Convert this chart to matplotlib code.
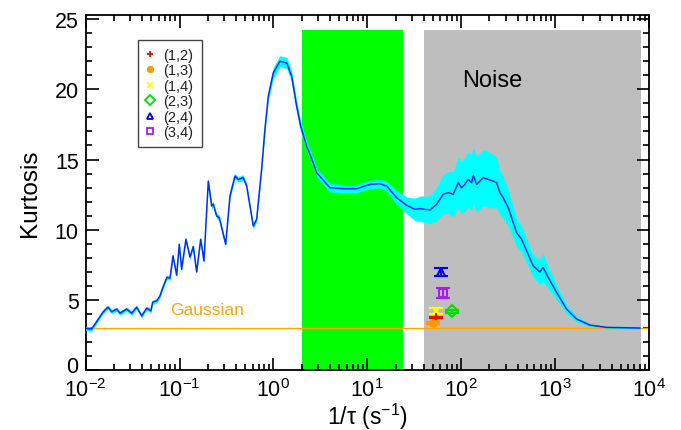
import numpy as np
import matplotlib
matplotlib.use('Agg')
import matplotlib.pyplot as plt
from matplotlib.ticker import LogLocator, MultipleLocator, NullFormatter
from matplotlib.lines import Line2D
from matplotlib.transforms import ScaledTranslation

plt.rcParams['font.family'] = ['Liberation Sans', 'DejaVu Sans']
plt.rcParams['mathtext.fontset'] = 'custom'
plt.rcParams['mathtext.rm'] = 'Liberation Sans'
plt.rcParams['mathtext.it'] = 'Liberation Sans:italic'
plt.rcParams['mathtext.default'] = 'regular'

# kurtosis curve: log10(1/tau), kurtosis, half width of the band
log_f = [-2.000, -1.936, -1.901, -1.816, -1.763, -1.723, -1.670, -1.635, -1.563, -1.510,
         -1.457, -1.404, -1.350, -1.305, -1.286, -1.244, -1.209, -1.177, -1.135, -1.102,
         -1.070, -1.031, -1.003, -0.978, -0.932, -0.889, -0.854, -0.818, -0.775, -0.740,
         -0.694, -0.658, -0.641, -0.605, -0.577, -0.509, -0.463, -0.410, -0.375, -0.322,
         -0.285, -0.215, -0.179, -0.126, -0.091, -0.055, -0.002, 0.069, 0.141, 0.194,
         0.247, 0.290, 0.354, 0.424, 0.460, 0.602, 0.743, 0.886, 1.028, 1.134,
         1.206, 1.312, 1.419, 1.507, 1.560, 1.667, 1.738, 1.808, 1.862, 1.915,
         1.968, 2.004, 2.039, 2.075, 2.111, 2.128, 2.164, 2.199, 2.234, 2.288,
         2.341, 2.377, 2.412, 2.447, 2.501, 2.554, 2.590, 2.643, 2.697, 2.767,
         2.838, 2.873, 2.927, 3.016, 3.122, 3.229, 3.371, 3.548, 3.903]
kurt = [2.97, 2.92, 3.27, 4.13, 4.48, 4.15, 4.34, 4.05, 4.34, 4.05,
        4.48, 3.86, 4.41, 4.22, 4.84, 4.93, 5.28, 5.90, 6.61, 6.54,
        8.13, 6.76, 8.96, 7.18, 9.32, 8.04, 8.80, 6.99, 9.32, 7.77,
        13.46, 11.69, 11.81, 10.97, 10.86, 8.96, 12.40, 13.82, 13.58, 13.71,
        13.11, 10.26, 10.74, 14.30, 17.14, 19.51, 21.17, 22.00, 21.89, 20.93,
        18.80, 17.38, 15.95, 14.77, 14.06, 12.99, 12.92, 12.92, 13.23, 13.28,
        13.11, 12.28, 11.74, 11.45, 11.50, 11.40, 11.81, 12.52, 12.64, 12.52,
        13.35, 12.99, 13.23, 13.58, 13.35, 13.87, 13.23, 13.46, 13.71, 13.58,
        13.46, 13.35, 12.64, 12.28, 11.57, 10.50, 9.79, 9.32, 8.49, 7.42,
        6.99, 7.30, 6.59, 5.53, 4.34, 3.63, 3.20, 3.04, 2.99]
err = [0.15, 0.15, 0.15, 0.15, 0.15, 0.15, 0.15, 0.15, 0.15, 0.15,
       0.15, 0.15, 0.15, 0.15, 0.15, 0.15, 0.15, 0.15, 0.15, 0.15,
       0.15, 0.15, 0.15, 0.15, 0.15, 0.15, 0.15, 0.15, 0.15, 0.15,
       0.2, 0.2, 0.2, 0.2, 0.2, 0.2, 0.2, 0.2, 0.2, 0.2,
       0.2, 0.2, 0.2, 0.2, 0.3, 0.35, 0.4, 0.4, 0.4, 0.4,
       0.4, 0.4, 0.35, 0.3, 0.3, 0.3, 0.3, 0.3, 0.3, 0.3,
       0.35, 0.5, 0.6, 0.8, 0.9, 1.0, 1.2, 1.4, 1.5, 1.6,
       1.8, 1.9, 1.9, 2.0, 2.0, 2.0, 2.0, 2.0, 2.0, 2.0,
       1.9, 1.8, 1.6, 1.5, 1.3, 1.1, 1.0, 0.9, 0.85, 0.8,
       0.9, 1.0, 0.8, 0.5, 0.3, 0.2, 0.1, 0.05, 0.05]

# individual pairs
pair_names = ['(1,2)', '(1,3)', '(1,4)', '(2,3)', '(2,4)', '(3,4)']
pair_f = [54, 50, 54, 79, 61, 64]
pair_k = [3.75, 3.34, 4.20, 4.17, 7.00, 5.50]
pair_err = [0.05, 0.05, 0.24, 0.08, 0.30, 0.36]
pair_colors = ['#ff0000', '#ff9900', '#ffff00', '#00e000', '#0000ff', '#a020f0']
pair_markers = ['+', (8, 2, 0), 'x', 'D', '^', 's']

green_band = (2.0, 24.0)
gray_band = (40.0, 8300.0)
band_top = 24.2

f = 10 ** np.array(log_f)
kurt = np.array(kurt)
err = np.array(err)

fig = plt.figure(figsize=(6.81, 4.31), dpi=100)
ax = fig.add_axes([0.1258, 0.1392, 0.8272, 0.8237])

ax.fill_between(green_band, 0, band_top, color='#00ff00', lw=0, zorder=1)
ax.fill_between(gray_band, 0, band_top, color='#bebebe', lw=0, zorder=1)
ax.axhline(3.0, color='#ffa500', lw=1, zorder=2)
ax.fill_between(f, kurt - err, kurt + err, color='#00ffff', lw=0, zorder=3)
ax.plot(f, kurt, color='#0030f0', lw=1.1, zorder=4)

for name, x, y, e, c, m in zip(pair_names, pair_f, pair_k, pair_err,
                                pair_colors, pair_markers):
    filled = m in ['+', 'x'] or isinstance(m, tuple)
    ax.errorbar(x, y, yerr=e, fmt='none', ecolor=c, elinewidth=1.5,
                capsize=5, capthick=1.5, zorder=5)
    ax.plot(x, y, marker=m, ms=6, mew=1.5, color=c,
            mfc=c if filled else 'none', ls='none', zorder=6)

ax.text(212, 20.7, 'Noise', fontsize=17, ha='center', va='center')
ax.text(0.196, 4.34, 'Gaussian', fontsize=12.5, color='#ffa500',
        ha='center', va='center')

ax.set_xscale('log')
ax.set_xlim(1e-2, 1e4)
ax.set_ylim(0, 25.3)
ax.yaxis.set_major_locator(MultipleLocator(5))
ax.yaxis.set_minor_locator(MultipleLocator(1))
ax.xaxis.set_major_locator(LogLocator(base=10, numticks=10))
ax.xaxis.set_minor_locator(LogLocator(base=10, subs=np.arange(2, 10), numticks=20))
ax.xaxis.set_minor_formatter(NullFormatter())
ax.tick_params(which='both', direction='in', top=True, right=True,
               width=1.2, labelsize=15.5)
ax.tick_params(axis='y', pad=5)
ax.tick_params(axis='x', pad=6)
ax.tick_params(which='major', length=9)
ax.tick_params(which='minor', length=4.5)
for s in ax.spines.values():
    s.set_linewidth(1.3)

ax.set_xlabel(r'1/$\tau$ (s$^{-1}$)', fontsize=16.5, labelpad=0)
ax.set_ylabel('Kurtosis', fontsize=17.5, labelpad=10)

handles = []
for name, c, m in zip(pair_names, pair_colors, pair_markers):
    filled = m in ['+', 'x'] or isinstance(m, tuple)
    handles.append(Line2D([], [], ls='none', marker=m, color=c, ms=5, mew=1.3,
                          mfc=c if filled else 'none', label=name))
leg = ax.legend(handles=handles, loc='upper left',
                bbox_to_anchor=(138 / 681, 1 - 41 / 431),
                bbox_transform=fig.transFigure, borderaxespad=0,
                fontsize=10.5, handlelength=0.6, handletextpad=0.6,
                labelspacing=0.1, fancybox=False, framealpha=1,
                edgecolor='#444444', borderpad=0.55)
leg.get_frame().set_linewidth(1.0)
for t in leg.get_texts():
    t.set_color('#222222')

# lift the "0" label a little so it clears the 10^-2 label
fig.canvas.draw()
for tk in ax.yaxis.get_major_ticks():
    if abs(tk.get_loc()) < 1e-9:
        lab0 = tk.label1
        lab0.set_transform(lab0.get_transform() +
                           ScaledTranslation(0, 4 / 72, fig.dpi_scale_trans))

fig.savefig('out.png', dpi=100)
